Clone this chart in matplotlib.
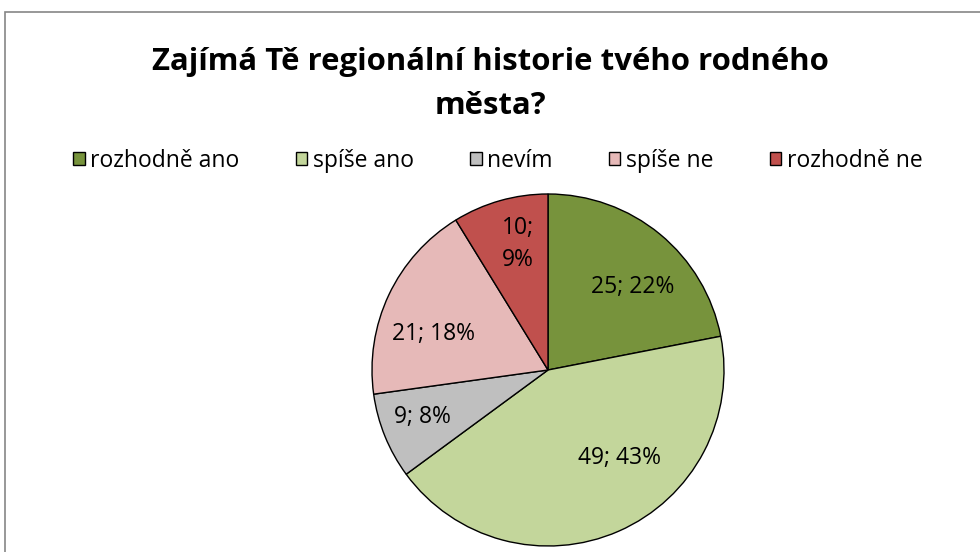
import matplotlib.pyplot as plt
from matplotlib.patches import Rectangle, Patch
import numpy as np

plt.rcParams['font.family'] = ['Open Sans', 'DejaVu Sans']

# survey answers
categories = ['rozhodně ano', 'spíše ano', 'nevím', 'spíše ne', 'rozhodně ne']
counts = [25, 49, 9, 21, 10]
percents = [22, 43, 8, 18, 9]
labels = ['25; 22%', '49; 43%', '9; 8%', '21; 18%', '10;\n9%']
colors = ['#77933C', '#C3D69B', '#BFBFBF', '#E6B9B8', '#C0504D']

fig = plt.figure(figsize=(9.8, 5.52), dpi=100)

# chart frame (runs off the right and bottom like the original crop)
fig.patches.append(Rectangle((5 / 980, -0.1), 1.2, 1 - 12 / 552 + 0.1,
                             transform=fig.transFigure, fill=False,
                             edgecolor='#868686', linewidth=1.2))

fig.text(0.5, 1 - 62 / 552, 'Zajímá Tě regionální historie tvého rodného',
         ha='center', va='center', fontsize=22.4, fontweight='bold')
fig.text(0.5, 1 - 106 / 552, 'města?',
         ha='center', va='center', fontsize=22.4, fontweight='bold')

ax = fig.add_axes([372 / 980, 6 / 552, 352 / 980, 352 / 552])
wedges, _ = ax.pie(counts, colors=colors, startangle=90, counterclock=False,
                   radius=1, wedgeprops=dict(edgecolor='black', linewidth=1))
ax.set_xlim(-1, 1)
ax.set_ylim(-1, 1)

# label distance from centre and angle nudge, per wedge
label_r = [0.675, 0.646, 0.764, 0.68, 0.736]
label_da = [-6, 15.6, -1.6, 7.8, -2.4]
for w, lab, r, da in zip(wedges, labels, label_r, label_da):
    ang = np.deg2rad((w.theta1 + w.theta2) / 2 + da)
    ax.text(r * np.cos(ang), r * np.sin(ang), lab, ha='center', va='center',
            fontsize=16.5, linespacing=1.45)

handles = [Patch(facecolor=c, edgecolor='black', linewidth=1) for c in colors]
fig.legend(handles, categories, loc='center', bbox_to_anchor=(0.5 + 8 / 980, 1 - 161 / 552),
           ncol=5, frameon=False, fontsize=16.5, handlelength=0.5, handleheight=0.5,
           handletextpad=0.25, columnspacing=2.45)

fig.savefig('out.png', dpi=100)
